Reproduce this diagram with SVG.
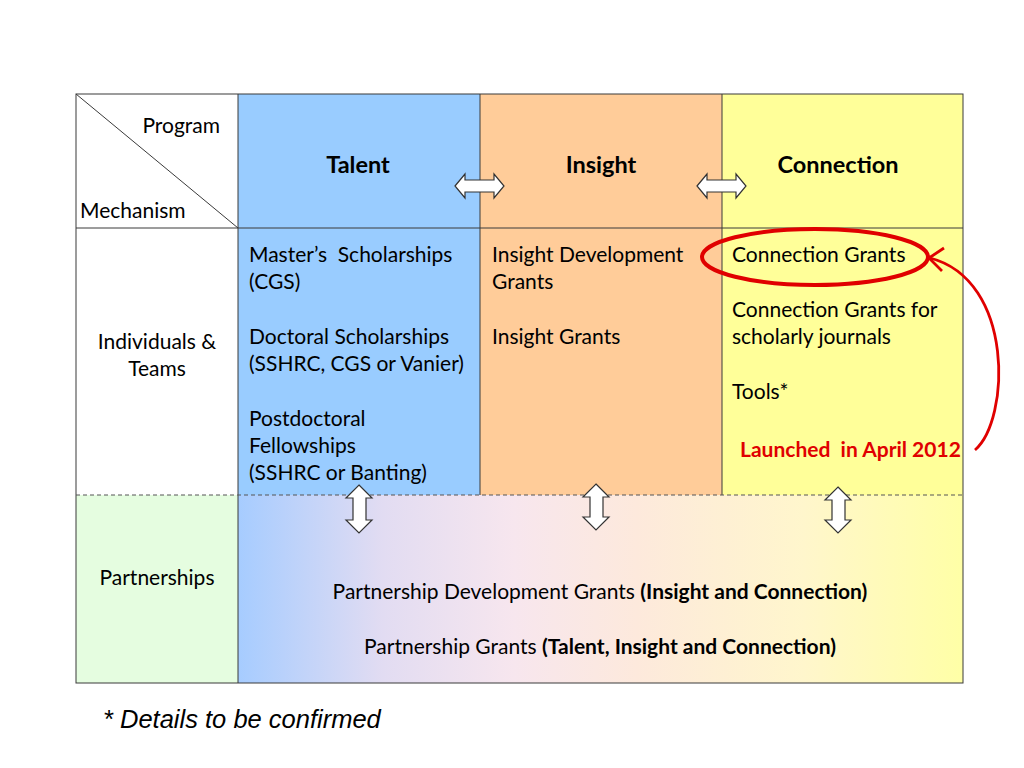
<svg xmlns="http://www.w3.org/2000/svg" width="1024" height="768" viewBox="0 0 1024 768">
<style>
.t{font-family:Lato,"Liberation Sans",sans-serif;font-size:21px;fill:#000;white-space:pre}
.h{font-family:Lato,"Liberation Sans",sans-serif;font-size:23.5px;font-weight:bold;fill:#000}
.b{font-weight:bold}
.grid{stroke:#3a3a3a;stroke-width:1;fill:none}
.arr{fill:#fff;stroke:#333;stroke-width:1.2}
</style>
<defs>
<linearGradient id="pg" x1="0" y1="0" x2="1" y2="0">
<stop offset="0" stop-color="#a6ccff"/>
<stop offset="0.2" stop-color="#e2dcf2"/>
<stop offset="0.38" stop-color="#f7e6ee"/>
<stop offset="0.55" stop-color="#fde9dc"/>
<stop offset="0.78" stop-color="#fff6cc"/>
<stop offset="1" stop-color="#ffffa6"/>
</linearGradient>
</defs>
<rect width="1024" height="768" fill="#fff"/>
<g id="cells">
<rect x="238" y="94" width="242" height="401" fill="#99ccff"/>
<rect x="480" y="94" width="242" height="401" fill="#ffcc99"/>
<rect x="722" y="94" width="241" height="401" fill="#ffff99"/>
<rect x="76" y="495" width="162" height="188" fill="#e5fde0"/>
<rect x="238" y="495" width="725" height="188" fill="url(#pg)"/>
</g>
<g id="grid">
<rect x="76" y="94" width="887" height="589" class="grid" stroke-width="1.3"/>
<line x1="76" y1="228" x2="963" y2="228" class="grid"/>
<line x1="238" y1="94" x2="238" y2="683" class="grid"/>
<line x1="480" y1="94" x2="480" y2="495" class="grid"/>
<line x1="722" y1="94" x2="722" y2="495" class="grid"/>
<line x1="76" y1="495" x2="963" y2="495" stroke="#555" stroke-width="1" stroke-dasharray="4 3"/>
<line x1="76" y1="94" x2="238" y2="228" class="grid"/>
</g>
<g id="header-corner">
<text class="t" x="220" y="133" text-anchor="end">Program</text>
<text class="t" x="80" y="218">Mechanism</text>
</g>
<g id="talent"><text class="h" x="358" y="173" text-anchor="middle">Talent</text></g>
<g id="insight"><text class="h" x="601" y="173" text-anchor="middle">Insight</text></g>
<g id="connection"><text class="h" x="838" y="173" text-anchor="middle">Connection</text></g>
<g id="row-individuals">
<text class="t" x="157" y="349" text-anchor="middle">Individuals &amp;</text>
<text class="t" x="157" y="376" text-anchor="middle">Teams</text>
</g>
<g id="talent-list">
<text class="t" x="249" y="262">Master’s  Scholarships</text>
<text class="t" x="249" y="289">(CGS)</text>
<text class="t" x="249" y="344">Doctoral Scholarships</text>
<text class="t" x="249" y="371">(SSHRC, CGS or Vanier)</text>
<text class="t" x="249" y="426">Postdoctoral</text>
<text class="t" x="249" y="453">Fellowships</text>
<text class="t" x="249" y="480">(SSHRC or Banting)</text>
</g>
<g id="insight-list">
<text class="t" x="492" y="262">Insight Development</text>
<text class="t" x="492" y="289">Grants</text>
<text class="t" x="492" y="344">Insight Grants</text>
</g>
<g id="connection-list">
<text class="t" x="732" y="262">Connection Grants</text>
<text class="t" x="732" y="317">Connection Grants for</text>
<text class="t" x="732" y="344">scholarly journals</text>
<text class="t" x="732" y="399">Tools*</text>
<text class="t b" x="740" y="457" style="fill:#e00000">Launched  in April 2012</text>
</g>
<g id="row-partnerships">
<text class="t" x="157" y="585" text-anchor="middle">Partnerships</text>
<text class="t" x="600" y="599" text-anchor="middle">Partnership Development Grants <tspan class="b">(Insight and Connection)</tspan></text>
<text class="t" x="600" y="654" text-anchor="middle">Partnership Grants <tspan class="b">(Talent, Insight and Connection)</tspan></text>
</g>
<g id="connectors">
<path class="arr" d="M455 186 L465 174 L465 180 L494 180 L494 174 L504 186 L494 198 L494 192 L465 192 L465 198 Z"/>
<path class="arr" d="M697 186 L707 174 L707 180 L736 180 L736 174 L746 186 L736 198 L736 192 L707 192 L707 198 Z"/>
<path class="arr" d="M359 485 L372 498 L366 498 L366 520 L372 520 L359 533 L346 520 L353 520 L353 498 L346 498 Z"/>
<path class="arr" d="M596 484 L609 497 L603 497 L603 517 L609 517 L596 530 L583 517 L590 517 L590 497 L583 497 Z"/>
<path class="arr" d="M838 487 L851 500 L845 500 L845 520 L851 520 L838 533 L825 520 L832 520 L832 500 L825 500 Z"/>
<ellipse cx="815" cy="257" rx="113" ry="28" fill="none" stroke="#e00000" stroke-width="4"/>
<path d="M975 450 C1010 420 1015 280 930 258" fill="none" stroke="#e00000" stroke-width="2.8"/>
<path d="M944 248 L929 258 L942 271" fill="none" stroke="#e00000" stroke-width="2.8" stroke-linejoin="round"/>
</g>
<text x="103" y="728" font-family="'Liberation Sans',Arial,sans-serif" font-size="25.5" font-style="italic">* Details to be confirmed</text>
</svg>
